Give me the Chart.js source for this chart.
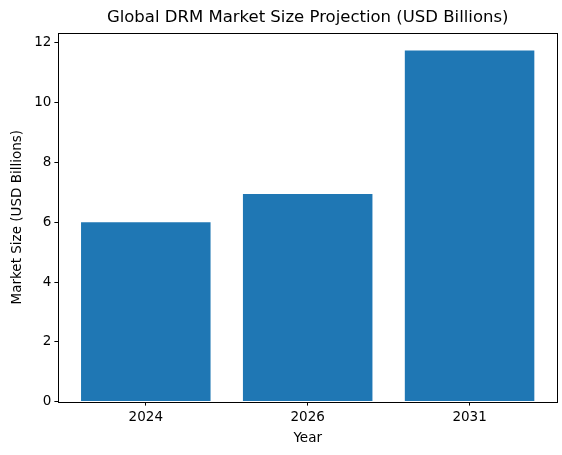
<!DOCTYPE html>
<html>
<head>
<meta charset="utf-8">
<script src="https://cdn.jsdelivr.net/npm/chart.js@4.4.0/dist/chart.umd.min.js"></script>
<style>
  html, body { margin: 0; padding: 0; background: #fff; }
  #wrap { width: 562px; height: 455px; }
</style>
</head>
<body>
<div id="wrap"><canvas id="drmChart" width="562" height="455"></canvas></div>
<script>
const years = ['2024', '2026', '2031'];
const marketSize = [6.0, 6.95, 11.75];
const yTicks = [0, 2, 4, 6, 8, 10, 12];

const ctx = document.getElementById('drmChart').getContext('2d');

// box around the plot area, like matplotlib spines
const spines = {
    id: 'spines',
    afterDraw(chart) {
        const a = chart.chartArea;
        const c = chart.ctx;
        c.save();
        c.strokeStyle = '#000';
        c.lineWidth = 1;
        c.strokeRect(Math.round(a.left) + 0.5, Math.round(a.top) + 0.5,
            Math.round(a.right - a.left), Math.round(a.bottom - a.top));
        c.restore();
    }
};

Chart.defaults.font.family = 'DejaVu Sans';
Chart.defaults.color = '#000';

new Chart(ctx, {
    type: 'bar',
    data: {
        datasets: [{
            data: marketSize.map((v, i) => ({ x: i, y: v })),
            backgroundColor: '#1f77b4',
            borderWidth: 0,
            barPercentage: 1,
            categoryPercentage: 0.8
        }]
    },
    options: {
        responsive: false,
        devicePixelRatio: 1,
        animation: false,
        layout: { padding: { left: 9, right: 5, top: 0, bottom: 8 } },
        plugins: {
            legend: { display: false },
            tooltip: { enabled: false },
            title: {
                display: true,
                fullSize: false,
                text: 'Global DRM Market Size Projection (USD Billions)',
                font: { size: 16.5, weight: 'normal' },
                padding: { top: 8, bottom: 5 }
            }
        },
        scales: {
            x: {
                type: 'linear',
                offset: false,
                min: -0.54,
                max: 2.54,
                afterBuildTicks: axis => {
                    axis.ticks = years.map((y, i) => ({ value: i }));
                },
                ticks: {
                    font: { size: 13.5 },
                    padding: 4,
                    maxRotation: 0,
                    autoSkip: false,
                    callback: v => years[v]
                },
                grid: { display: true, offset: false, drawOnChartArea: false, tickLength: 4, color: '#000' },
                border: { display: false },
                title: { display: true, text: 'Year', font: { size: 13.5 }, padding: { top: 1, bottom: 0 } }
            },
            y: {
                min: 0,
                max: 12.34,
                afterBuildTicks: axis => {
                    axis.ticks = yTicks.map(v => ({ value: v }));
                },
                ticks: { font: { size: 13.5 }, padding: 3 },
                grid: { display: true, drawOnChartArea: false, tickLength: 4, color: '#000' },
                border: { display: false },
                title: { display: true, text: 'Market Size (USD Billions)', font: { size: 13.5 }, padding: { top: 0, bottom: 6 } }
            }
        }
    },
    plugins: [spines]
});
</script>
</body>
</html>
